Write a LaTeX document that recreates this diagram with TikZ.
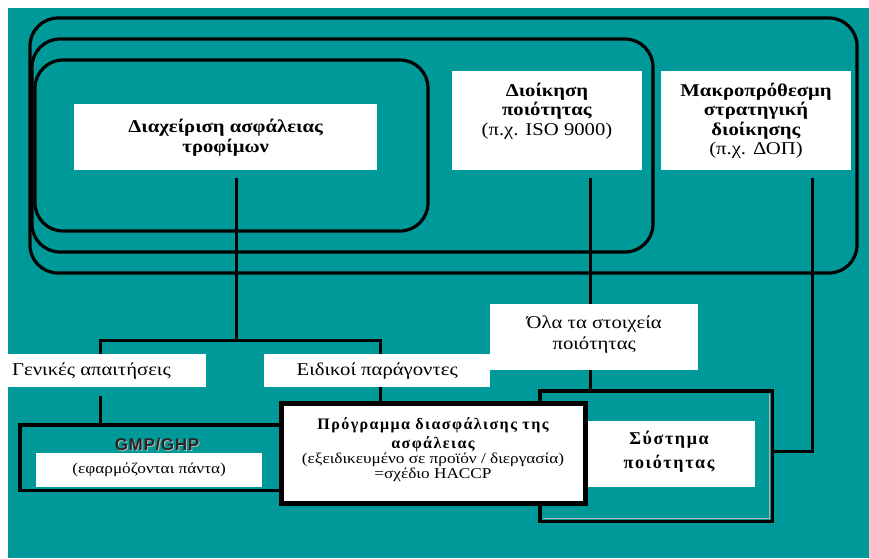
\documentclass[tikz,border=0pt]{standalone}
\usepackage{fontspec}
\setmainfont{Liberation Serif}
\setsansfont{Liberation Sans}
\definecolor{bgteal}{RGB}{0,153,153}
\newfontfamily\wideserif[FakeStretch=1.15]{Liberation Serif}
\newfontfamily\spacedbf[LetterSpace=9]{Liberation Serif}
\newfontfamily\widesans[LetterSpace=4]{Liberation Sans}
\begin{document}
\begin{tikzpicture}[x=1pt,y=-1pt,
  wbox/.style={fill=white, draw=none, inner sep=0pt, anchor=north west},
  area/.style={draw=none, inner sep=0pt, anchor=north west},
  frame/.style={draw=black, line width=3.5pt},
  conn/.style={draw=black, line width=3pt},
  rr/.style={draw=black, line width=3.2pt, rounded corners=28pt},
  ttl/.style={font=\fontsize{18}{20}\selectfont\wideserif\bfseries, align=center, inner sep=0pt},
  txt/.style={font=\fontsize{18}{19.5}\selectfont\wideserif, align=center, inner sep=0pt},
  sml/.style={font=\fontsize{15}{17}\selectfont\wideserif, align=center, inner sep=0pt}
]
% page and coloured ground
\useasboundingbox (0,0) rectangle (869,558);
\fill[white] (0,0) rectangle (869,558);
\fill[bgteal] (8,8) rectangle (869,558);

% nested management scopes
\draw[rr] (30,18) rectangle (857,273);
\draw[rr] (32,39) rectangle (653,252);
\draw[rr] (35,60) rectangle (428,231);

% top-level boxes
\node[wbox, minimum width=303pt, minimum height=66pt] (fs) at (74,104) {};
\node[ttl] at ([yshift=-1pt]fs.center) {Διαχείριση ασφάλειας\\τροφίμων};
\node[wbox, minimum width=190pt, minimum height=99pt] (qm) at (452,71) {};
\node[txt] at (547,111) {\textbf{Διοίκηση}\\\textbf{ποιότητας}\\(π.χ. ISO 9000)};
\node[wbox, minimum width=190pt, minimum height=99pt] (lt) at (661,71) {};
\node[txt] at (756,120.5) {\textbf{Μακροπρόθεσμη}\\\textbf{στρατηγική}\\\textbf{διοίκησης}\\(π.χ. ΔΟΠ)};

% lower frames
\node[area, minimum width=290pt, minimum height=65pt] (gmp) at (20,425) {};
\node[area, minimum width=232pt, minimum height=130pt] (sys) at (540,391) {};

% fixed x positions of the vertical connectors
\coordinate (xa) at (236,0);
\coordinate (xg) at (100,0);
\coordinate (xs) at (380,0);
\coordinate (xq) at (590,0);
\coordinate (xl) at (812,0);
\coordinate (br) at (0,340);

% label boxes (placed first, painted later on top)
\node[area, minimum width=198pt, minimum height=33pt] (gen) at (8,354) {};
\node[area, minimum width=226pt, minimum height=33pt] (spec) at (264,354) {};
\node[area, minimum width=208pt, minimum height=66pt] (all) at (490,304) {};
\node[area, minimum width=304pt, minimum height=100pt] (prog) at (281,403) {};

% connectors
\draw[conn] ([yshift=-8pt]fs.south -| xa) -- (xa |- br);
\draw[conn] (gen.north -| xg) -- (xg |- br) -- (xs |- br) -- (spec.north -| xs);
\draw[conn] ([yshift=-9pt]gen.south -| xg) -- (gmp.north -| xg);
\draw[conn] (spec.south -| xs) -- (prog.north -| xs);
\draw[conn] ([yshift=-8pt]qm.south -| xq) -- (sys.north -| xq);
\draw[conn] ([yshift=-8pt]lt.south -| xl) |- ([yshift=5pt]sys.east);

% GMP/GHP frame
\draw[frame] (gmp.north west) rectangle (gmp.south east);
\node[wbox, minimum width=226pt, minimum height=34pt] (gmpin) at (36,453) {};
\node[font=\fontsize{17}{18}\selectfont\widesans\bfseries, text=gray!55, inner sep=0pt] at (158,445) {GMP/GHP};
\node[font=\fontsize{17}{18}\selectfont\widesans\bfseries, text=black!85, inner sep=0pt] at (157,444) {GMP/GHP};
\node[sml] at (gmpin.center) {(εφαρμόζονται πάντα)};

% quality system frame
\draw[frame] (sys.north west) rectangle (sys.south east);
\draw[gray!60, line width=1pt] ([xshift=-2.5pt,yshift=-2.5pt]sys.north east) -- ([xshift=-2.5pt,yshift=2.5pt]sys.south east) -- ([xshift=2.5pt,yshift=2.5pt]sys.south west);
\node[wbox, minimum width=169pt, minimum height=66pt] (sysin) at (586,421) {};
\node[align=center, inner sep=0pt, font=\fontsize{18}{24}\selectfont\spacedbf\bfseries] at (669,452) {Σύστημα\\ποιότητας};

% labels
\fill[white] (gen.north west) rectangle (gen.south east);
\node[txt, anchor=west] at ([xshift=4pt]gen.west) {Γενικές απαιτήσεις};
\fill[white] (spec.north west) rectangle (spec.south east);
\node[txt] at (spec.center) {Ειδικοί παράγοντες};
\fill[white] (all.north west) rectangle (all.south east);
\node[txt, font=\fontsize{18}{21}\selectfont\wideserif] at ([yshift=3pt]all.center) {Όλα τα στοιχεία\\ποιότητας};

% safety assurance programme
\draw[fill=white, line width=5pt] (prog.north west) rectangle (prog.south east);
\node[align=center, inner sep=0pt] at (433,449.5)
  {\fontsize{16}{20}\selectfont\spacedbf\bfseries Πρόγραμμα διασφάλισης της\\[3pt]
   \fontsize{16}{20}\selectfont\spacedbf\bfseries ασφάλειας\\
   \fontsize{15}{17}\selectfont\wideserif\mdseries (εξειδικευμένο σε προϊόν / διεργασία)\\
   \fontsize{15}{17}\selectfont\wideserif\mdseries =σχέδιο HACCP};
\end{tikzpicture}
\end{document}
